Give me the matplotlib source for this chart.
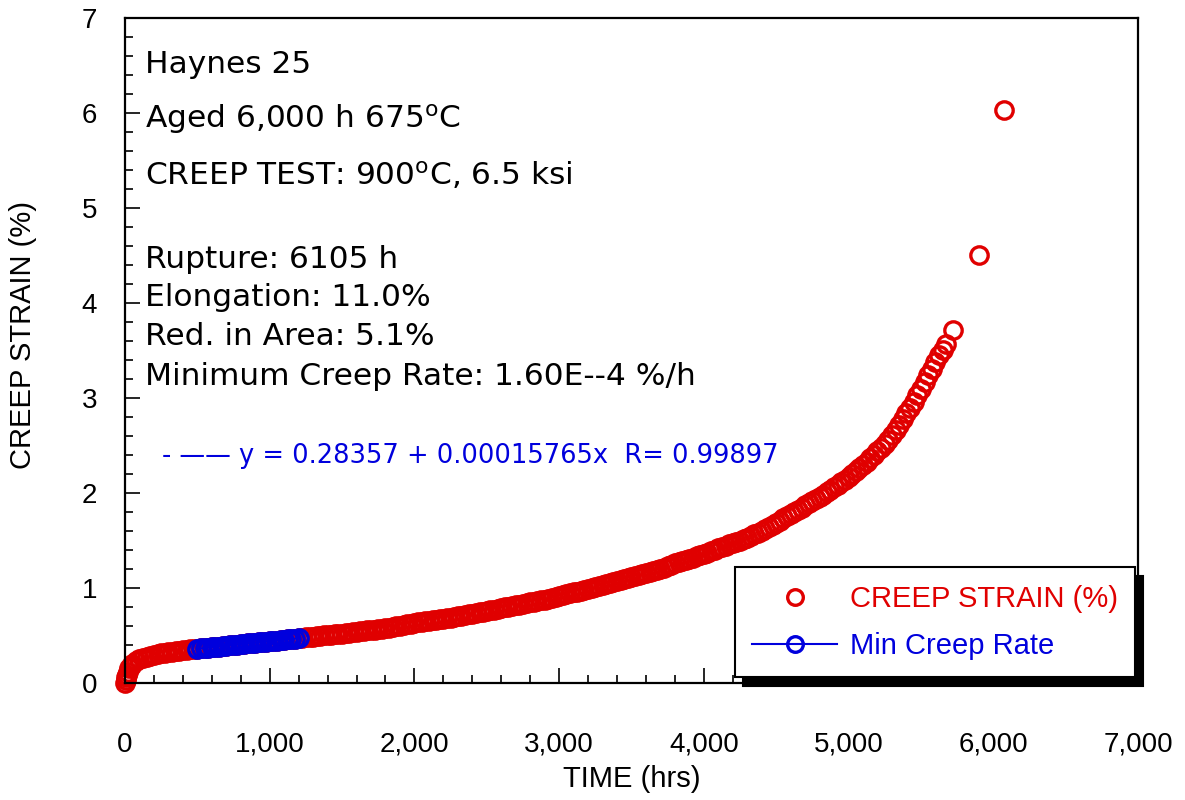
import numpy as np
import matplotlib
matplotlib.use("Agg")
import matplotlib.pyplot as plt
from matplotlib.ticker import MultipleLocator

plt.rcParams['font.family'] = ['Liberation Sans', 'DejaVu Sans']

# creep strain (%) vs time (hrs)
time_h = [0, 5, 10, 15, 20, 30, 40, 50, 75, 100, 125, 150, 175, 200, 225, 250, 275, 300, 325,
          350, 375, 400, 425, 450, 475, 500, 525, 550, 575, 600, 625, 650, 675, 700, 725,
          750, 775, 800, 825, 850, 875, 900, 925, 950, 975, 1000, 1025, 1050, 1075, 1100, 1125,
          1150, 1175, 1200, 1225, 1250, 1275, 1300, 1325, 1350, 1375, 1400, 1425, 1450, 1475,
          1500, 1525, 1550, 1575, 1600, 1625, 1650, 1675, 1700, 1725, 1750, 1775, 1800, 1825,
          1850, 1875, 1900, 1925, 1950, 1975, 2000, 2025, 2050, 2075, 2100, 2125, 2150, 2175,
          2200, 2225, 2250, 2275, 2300, 2325, 2350, 2375, 2400, 2425, 2450, 2475, 2500, 2525,
          2550, 2575, 2600, 2625, 2650, 2675, 2700, 2725, 2750, 2775, 2800, 2825, 2850, 2875,
          2900, 2925, 2950, 2975, 3000, 3025, 3050, 3075, 3100, 3125, 3150, 3175, 3200, 3225,
          3250, 3275, 3300, 3325, 3350, 3375, 3400, 3425, 3450, 3475, 3500, 3525, 3550, 3575,
          3600, 3625, 3650, 3675, 3700, 3725, 3750, 3775, 3800, 3825, 3850, 3875, 3900, 3925,
          3950, 3975, 4000, 4025, 4050, 4075, 4100, 4125, 4150, 4175, 4200, 4225, 4250, 4275,
          4300, 4325, 4350, 4375, 4400, 4425, 4450, 4475, 4500, 4525, 4550, 4575, 4600, 4625,
          4650, 4675, 4700, 4725, 4750, 4775, 4800, 4825, 4850, 4875, 4900, 4925, 4950, 4975,
          5000, 5025, 5050, 5075, 5100, 5125, 5150, 5175, 5200, 5225, 5250, 5275, 5300, 5325,
          5350, 5375, 5400, 5425, 5450, 5475, 5500, 5525, 5550, 5575, 5600, 5625, 5650, 5675,
          5725, 5900, 6075]
strain = [0.00, 0.03, 0.06, 0.09, 0.12, 0.16, 0.18, 0.20, 0.23, 0.25, 0.265, 0.28, 0.29, 0.30, 0.308, 0.315, 0.32, 0.325, 0.33,
          0.335, 0.34, 0.345, 0.35, 0.355, 0.358, 0.362, 0.366, 0.370, 0.374, 0.378, 0.382, 0.386, 0.390, 0.394, 0.398,
          0.402, 0.406, 0.410, 0.414, 0.418, 0.421, 0.425, 0.429, 0.433, 0.437, 0.441, 0.445, 0.449, 0.453, 0.457, 0.461,
          0.465, 0.469, 0.473, 0.477, 0.481, 0.485, 0.49, 0.495, 0.50, 0.503, 0.505, 0.51, 0.515, 0.518,
          0.52, 0.525, 0.53, 0.535, 0.54, 0.545, 0.55, 0.555, 0.56, 0.565, 0.57, 0.575, 0.58, 0.585,
          0.59, 0.597, 0.605, 0.612, 0.62, 0.627, 0.635, 0.64, 0.645, 0.65, 0.655, 0.662, 0.67, 0.675,
          0.68, 0.685, 0.69, 0.697, 0.705, 0.712, 0.72, 0.725, 0.73, 0.737, 0.745, 0.752, 0.76, 0.767,
          0.775, 0.782, 0.79, 0.797, 0.805, 0.812, 0.82, 0.827, 0.835, 0.842, 0.85, 0.857, 0.865, 0.872,
          0.88, 0.89, 0.90, 0.907, 0.915, 0.925, 0.935, 0.945, 0.955, 0.962, 0.97, 0.98, 0.99, 1.00,
          1.01, 1.02, 1.03, 1.04, 1.05, 1.062, 1.075, 1.087, 1.10, 1.11, 1.12, 1.13, 1.14, 1.15,
          1.16, 1.17, 1.18, 1.19, 1.20, 1.215, 1.23, 1.245, 1.26, 1.272, 1.285, 1.297, 1.31, 1.322,
          1.335, 1.347, 1.36, 1.375, 1.39, 1.405, 1.42, 1.432, 1.445, 1.46, 1.475, 1.487, 1.50, 1.515,
          1.53, 1.547, 1.565, 1.582, 1.60, 1.622, 1.645, 1.667, 1.69, 1.712, 1.735, 1.757, 1.78, 1.802,
          1.825, 1.847, 1.87, 1.892, 1.915, 1.937, 1.96, 1.985, 2.01, 2.035, 2.06, 2.087, 2.115, 2.142,
          2.17, 2.20, 2.23, 2.26, 2.30, 2.33, 2.37, 2.40, 2.44, 2.48, 2.52, 2.56, 2.61, 2.66,
          2.72, 2.78, 2.84, 2.90, 2.96, 3.03, 3.10, 3.17, 3.24, 3.31, 3.38, 3.45, 3.51, 3.57,
          3.72, 4.51, 6.03]

# points used for the minimum creep rate fit
min_rate_time = [500, 525, 550, 575, 600, 625, 650, 675, 700, 725, 750, 775, 800, 825, 850,
                 875, 900, 925, 950, 975, 1000, 1025, 1050, 1075, 1100, 1125, 1150, 1175, 1200]
min_rate_strain = [0.362, 0.366, 0.370, 0.374, 0.378, 0.382, 0.386, 0.390, 0.394, 0.398, 0.402,
                   0.406, 0.410, 0.414, 0.418, 0.421, 0.425, 0.429, 0.433, 0.437, 0.441, 0.445,
                   0.449, 0.453, 0.457, 0.461, 0.465, 0.469, 0.473]

x_ticks = [0, 1000, 2000, 3000, 4000, 5000, 6000, 7000]
x_ticklabels = ['0', '1,000', '2,000', '3,000', '4,000', '5,000', '6,000', '7,000']
y_ticks = [0, 1, 2, 3, 4, 5, 6, 7]

info_lines = ["Haynes 25",
              "Aged 6,000 h 675$^{\\rm o}$C",
              "CREEP TEST: 900$^{\\rm o}$C, 6.5 ksi",
              "Rupture: 6105 h",
              "Elongation: 11.0%",
              "Red. in Area: 5.1%",
              "Minimum Creep Rate: 1.60E--4 %/h"]
info_y = [0.917, 0.835, 0.749, 0.624, 0.567, 0.508, 0.448]
fit_text = "- —— y = 0.28357 + 0.00015765x  R= 0.99897"

RED = '#e00000'
BLUE = '#0000dd'

fig = plt.figure(figsize=(11.85, 8), dpi=100)
ax = fig.add_axes([0.1055, 0.146, 0.8548, 0.8315])

ax.plot(time_h, strain, linestyle='none', marker='o', markersize=12.5,
        markerfacecolor='none', markeredgecolor=RED, markeredgewidth=2.4,
        clip_on=False, label='CREEP STRAIN (%)')
ax.plot(min_rate_time, min_rate_strain, color=BLUE, linewidth=1.5, marker='o', markersize=12.5,
        markerfacecolor='none', markeredgecolor=BLUE, markeredgewidth=2.4,
        label='Min Creep Rate')

ax.set_xlim(0, 7000)
ax.set_ylim(0, 7)
ax.set_xticks(x_ticks)
ax.set_xticklabels(x_ticklabels)
ax.set_yticks(y_ticks)
ax.xaxis.set_minor_locator(MultipleLocator(200))
ax.yaxis.set_minor_locator(MultipleLocator(0.2))
ax.tick_params(which='both', direction='in', top=False, right=False, width=1.2, colors='black')
ax.tick_params(which='major', length=11, labelsize=20)
ax.tick_params(axis='x', which='major', pad=35)
ax.tick_params(axis='y', which='major', pad=20)
ax.tick_params(which='minor', length=6)
for sp in ax.spines.values():
    sp.set_linewidth(1.6)
    sp.set_color('black')

ax.set_xlabel('TIME (hrs)', fontsize=21)
ax.xaxis.set_label_coords(0.5, -0.123)
ax.set_ylabel('CREEP STRAIN (%)', fontsize=21)
ax.yaxis.set_label_coords(-0.087, 0.523)

for txt, yy in zip(info_lines, info_y):
    ax.text(0.0197, yy, txt, transform=ax.transAxes, fontsize=22.5, va='baseline', ha='left',
            family='DejaVu Sans')
ax.text(0.037, 0.331, fit_text, transform=ax.transAxes, fontsize=18.5, color=BLUE,
        va='baseline', ha='left', family='DejaVu Sans')

leg = ax.legend(loc='lower left', bbox_to_anchor=(0.602, 0.009, 0.395, 0.161), mode='expand',
                borderaxespad=0, fontsize=21, fancybox=False, edgecolor='black', framealpha=1,
                borderpad=0.6, labelspacing=0.65, handlelength=2.9, handletextpad=0.45,
                numpoints=1, labelcolor=[RED, BLUE], markerscale=0.9,
                shadow={'ox': 6, 'oy': -6, 'color': 'black', 'alpha': 1})
leg.get_frame().set_linewidth(1.5)

plt.savefig('out.png', dpi=100)
